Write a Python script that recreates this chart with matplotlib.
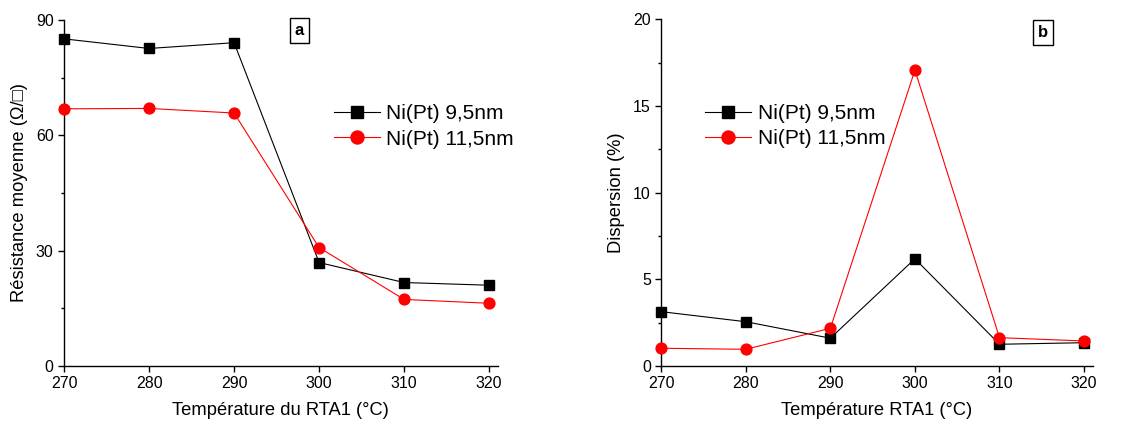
import matplotlib
matplotlib.use("Agg")
import matplotlib.pyplot as plt
from matplotlib.ticker import MultipleLocator

plt.rcParams['font.family'] = ['Liberation Sans', 'DejaVu Sans']

temps = [270, 280, 290, 300, 310, 320]
res_95 = [85.1, 82.6, 84.1, 26.9, 21.7, 21.0]
res_115 = [66.9, 67.0, 65.8, 30.8, 17.3, 16.3]
disp_95 = [3.13, 2.55, 1.60, 6.18, 1.25, 1.34]
disp_115 = [1.02, 0.96, 2.17, 17.06, 1.63, 1.44]
labels = ["Ni(Pt) 9,5nm", "Ni(Pt) 11,5nm"]

fig = plt.figure(figsize=(11.44, 4.26), dpi=100)
ax1 = fig.add_axes([0.056, 0.141, 0.379, 0.812])
ax2 = fig.add_axes([0.578, 0.141, 0.377, 0.814])

def style(ax, ymax, ymajor, yminor):
    ax.set_xlim(270, 321)
    ax.set_ylim(0, ymax)
    ax.xaxis.set_major_locator(MultipleLocator(10))
    ax.yaxis.set_major_locator(MultipleLocator(ymajor))
    ax.yaxis.set_minor_locator(MultipleLocator(yminor))
    ax.spines['top'].set_visible(False)
    ax.spines['right'].set_visible(False)
    for s in ('left', 'bottom'):
        ax.spines[s].set_linewidth(1.0)
    ax.tick_params(which='major', direction='out', length=4, width=1, labelsize=11.5)
    ax.tick_params(which='minor', direction='out', length=2.5, width=1)
    ax.tick_params(axis='x', which='minor', bottom=False)

for ax, y1, y2 in ((ax1, res_95, res_115), (ax2, disp_95, disp_115)):
    ax.plot(temps, y1, color='black', lw=0.8, marker='s', ms=7, mfc='black',
            mec='black', label=labels[0], clip_on=False, zorder=3)
    ax.plot(temps, y2, color='red', lw=0.8, marker='o', ms=7.8, mfc='red',
            mec='red', label=labels[1], clip_on=False, zorder=3)

style(ax1, 90, 30, 15)
style(ax2, 20, 5, 2.5)

ax1.set_xlabel("Température du RTA1 (°C)", fontsize=13.2, labelpad=8)
ax1.set_ylabel("Résistance moyenne (Ω/□)", fontsize=13.2, labelpad=6)
ax2.set_xlabel("Température RTA1 (°C)", fontsize=13.2, labelpad=8)
ax2.set_ylabel("Dispersion (%)", fontsize=13.2, labelpad=6)

ax1.legend(loc='upper left', bbox_to_anchor=(0.58, 0.81), frameon=False,
           fontsize=15, handlelength=2.2, handletextpad=0.3, labelspacing=0.3,
           markerscale=1.2)
ax2.legend(loc='upper left', bbox_to_anchor=(0.059, 0.81), frameon=False,
           fontsize=15, handlelength=2.2, handletextpad=0.3, labelspacing=0.3,
           markerscale=1.2)

box = dict(boxstyle='square,pad=0.3', fc='white', ec='black', lw=1)
ax1.text(0.543, 0.97, "a", transform=ax1.transAxes, fontsize=12, fontweight='bold',
         ha='center', va='center', bbox=box)
ax2.text(0.885, 0.962, "b", transform=ax2.transAxes, fontsize=12, fontweight='bold',
         ha='center', va='center', bbox=box)

fig.savefig("out.png", dpi=100)
